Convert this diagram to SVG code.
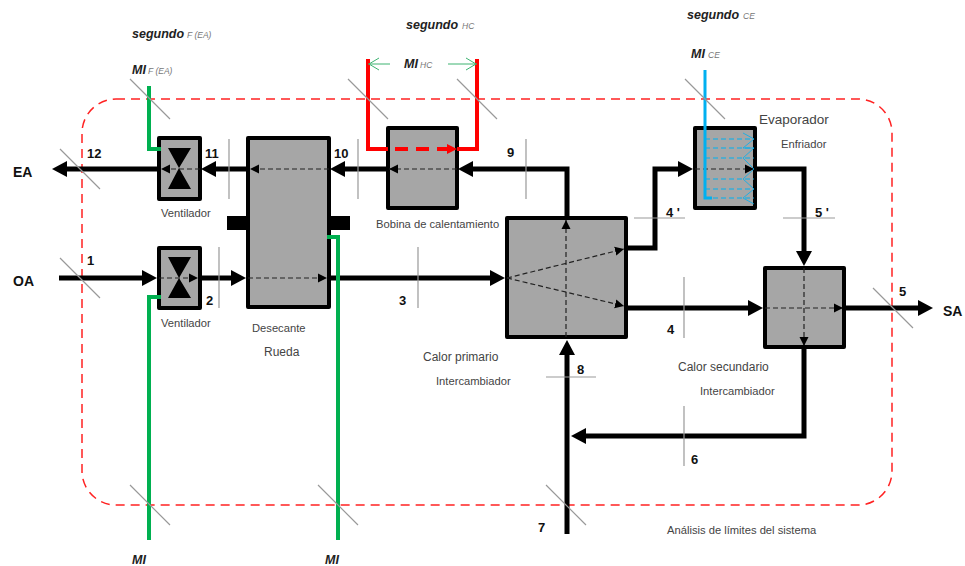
<svg xmlns="http://www.w3.org/2000/svg" width="965" height="566" viewBox="0 0 965 566">
<style>
text{font-family:"Liberation Sans",Arial,sans-serif;fill:#444}
.n{font-size:13px;font-weight:bold;fill:#111}
.t{font-size:14px;font-weight:bold;fill:#111}
.s{font-size:11.2px}
.l{font-size:12px}
.e{font-size:13.500px}
.i{font-size:12.500px;font-weight:bold;font-style:italic;fill:#222}
.sub{font-size:8.500px;font-style:italic;fill:#777}
.box{fill:#a6a6a6;stroke:#000;stroke-width:4;stroke-linejoin:round}
.flow{fill:none;stroke:#000;stroke-width:5;stroke-linejoin:miter}
.dash{fill:none;stroke:#222;stroke-width:1.2;stroke-dasharray:5 3}
.cut{stroke:#999;stroke-width:1.2;fill:none}
.g{fill:none;stroke:#00b050;stroke-width:4}
.r{fill:none;stroke:#f00;stroke-width:4}
.b{fill:none;stroke:#00b0f0;stroke-width:3}
.bd{fill:none;stroke:#00b0f0;stroke-width:1;stroke-dasharray:5 3}
.ar{fill:none;stroke:#3cb371;stroke-width:1}
</style>
<defs>
<marker id="big" markerUnits="userSpaceOnUse" markerWidth="16" markerHeight="18" refX="3" refY="9" orient="auto"><path d="M0 1L15 9L0 17Z" fill="#000"/></marker>
<marker id="sm" markerUnits="userSpaceOnUse" markerWidth="10" markerHeight="10" refX="9" refY="5" orient="auto"><path d="M0 .5L9 5L0 9.500Z" fill="#000"/></marker>
</defs>
<rect id="boundary" x="82" y="99" width="810" height="406" rx="34" ry="34" fill="none" stroke="#f22" stroke-width="1.500" stroke-dasharray="9 6"/>

<g id="connectors">
<path class="flow" d="M158 169H64" marker-end="url(#big)"/>
<path class="flow" d="M247 169H213" marker-end="url(#big)"/>
<path class="flow" d="M387 169H342" marker-end="url(#big)"/>
<path class="flow" d="M567 217V169H470" marker-end="url(#big)"/>
<path class="flow" d="M627 248H655V169H681" marker-end="url(#big)"/>
<path class="flow" d="M756 169H804V254" marker-end="url(#big)"/>
<path class="flow" d="M627 308H751" marker-end="url(#big)"/>
<path class="flow" d="M845 308H921" marker-end="url(#big)"/>
<path class="flow" d="M804 349V436H583" marker-end="url(#big)"/>
<path class="flow" d="M567 534V352" marker-end="url(#big)"/>
<path class="flow" d="M59 278H145" marker-end="url(#big)"/>
<path class="flow" d="M201 278H234" marker-end="url(#big)"/>
<path class="flow" d="M330 278H493" marker-end="url(#big)"/>
</g>

<g id="fan-ea"><rect class="box" x="159" y="138" width="41" height="61"/><path d="M168 148H191L179 168L191 189H168L179 168Z" fill="#000"/></g>
<g id="fan-oa"><rect class="box" x="159" y="248" width="41" height="60"/><path d="M168 257H191L179 278L191 298H168L179 278Z" fill="#000"/></g>
<g id="wheel"><rect x="227" y="216" width="20" height="14" fill="#000"/><rect x="329" y="216" width="21" height="14" fill="#000"/><rect class="box" x="248" y="138" width="81" height="169"/></g>
<g id="heating-coil"><rect class="box" x="388" y="128" width="69" height="80"/></g>
<g id="hx1"><rect class="box" x="507" y="218" width="119" height="119"/></g>
<g id="evaporator"><rect class="box" x="695" y="128" width="60" height="80"/></g>
<g id="hx2"><rect class="box" x="765" y="268" width="79" height="79"/></g>

<g id="internal-flows">
<path class="dash" d="M200 169H161" marker-end="url(#sm)"/>
<path class="dash" d="M329 169H250" marker-end="url(#sm)"/>
<path class="dash" d="M457 169H389" marker-end="url(#sm)"/>
<path class="dash" d="M695 169H754" marker-end="url(#sm)"/>
<path class="dash" d="M159 278H198" marker-end="url(#sm)"/>
<path class="dash" d="M248 278H327" marker-end="url(#sm)"/>
<path class="dash" d="M507 278L624 249" marker-end="url(#sm)"/>
<path class="dash" d="M507 278L624 306" marker-end="url(#sm)"/>
<path class="dash" d="M566 337V220" marker-end="url(#sm)"/>
<path class="dash" d="M765 308H843" marker-end="url(#sm)"/>
<path class="dash" d="M804 268V346" marker-end="url(#sm)"/>
</g>

<g id="utility-lines">
<path class="g" d="M149 86V149H161"/>
<path class="g" d="M149 540V297H161"/>
<path class="g" d="M338 540V237H327"/>
<path class="r" d="M368 59V149H388M477 59V149H457"/>
<path d="M395 149H457" fill="none" stroke="#f00" stroke-width="4" stroke-dasharray="13 8"/>
<path d="M447 144L457 149L447 154Z" fill="#f00"/>
<path class="ar" d="M390 64H368M379 58L369 64L379 70M448 64H477M466 58L476 64L466 70"/>
<path class="bd" d="M705 139H754M705 148H754M705 158H754M705 179H754M705 189H754M705 198H754"/>
<path d="M743 133L754 139L743 148L754 148L743 158L754 169L743 179L754 189L743 198L754 204" fill="none" stroke="#00b0f0" stroke-width=".8"/>
<path class="b" d="M705 70V198H712"/>
</g>

<g id="cuts">
<path class="cut" d="M60 149L100 189M60 258L100 298M130 79L170 119M348 79L388 119M457 79L497 119M685 79L725 119M873 288L913 328M130 485L170 525M318 485L358 525M546 485L586 525"/>
<path class="cut" d="M229 139V199M358 139V199M526 139V199M219 247V308M418 247V308M684 277V338M684 406V466"/>
<path class="cut" d="M634 218H685M783 218H835M546 377H596"/>
</g>

<g id="labels">
<text class="t" x="13" y="177">EA</text>
<text class="t" x="13" y="286">OA</text>
<text class="t" x="943" y="316">SA</text>
<text class="n" x="87" y="158">12</text>
<text class="n" x="205" y="158">11</text>
<text class="n" x="334" y="158">10</text>
<text class="n" x="507" y="157">9</text>
<text class="n" x="87" y="265">1</text>
<text class="n" x="206" y="305">2</text>
<text class="n" x="399" y="305">3</text>
<text class="n" x="667" y="334">4</text>
<text class="n" x="666" y="217">4 '</text>
<text class="n" x="815" y="217">5 '</text>
<text class="n" x="899" y="296">5</text>
<text class="n" x="691" y="464">6</text>
<text class="n" x="538" y="532">7</text>
<text class="n" x="577" y="374">8</text>

<text class="i" x="132" y="38">segundo</text><text class="sub" x="187" y="38">F (EA)</text>
<text class="i" x="132" y="74">MI</text><text class="sub" x="148" y="74">F (EA)</text>
<text class="i" x="406" y="29">segundo</text><text class="sub" x="462" y="29">HC</text>
<text class="i" x="404" y="68">MI</text><text class="sub" x="420" y="68">HC</text>
<text class="i" x="687" y="19">segundo</text><text class="sub" x="743" y="19">CE</text>
<text class="i" x="691" y="58">MI</text><text class="sub" x="708" y="58">CE</text>
<text class="i" x="132" y="564">MI</text>
<text class="i" x="325" y="564">MI</text>

<text class="s" x="161" y="217">Ventilador</text>
<text class="s" x="161" y="327">Ventilador</text>
<text class="s" x="252" y="332">Desecante</text>
<text class="l" x="264" y="356">Rueda</text>
<text class="s" x="376" y="228">Bobina de calentamiento</text>
<text class="e" x="759" y="124">Evaporador</text>
<text class="s" x="781" y="148">Enfriador</text>
<text class="l" x="423" y="361">Calor primario</text>
<text class="s" x="436" y="385">Intercambiador</text>
<text class="l" x="678" y="371">Calor secundario</text>
<text class="s" x="700" y="395">Intercambiador</text>
<text class="s" x="667" y="534">Análisis de límites del sistema</text>
</g>
</svg>
